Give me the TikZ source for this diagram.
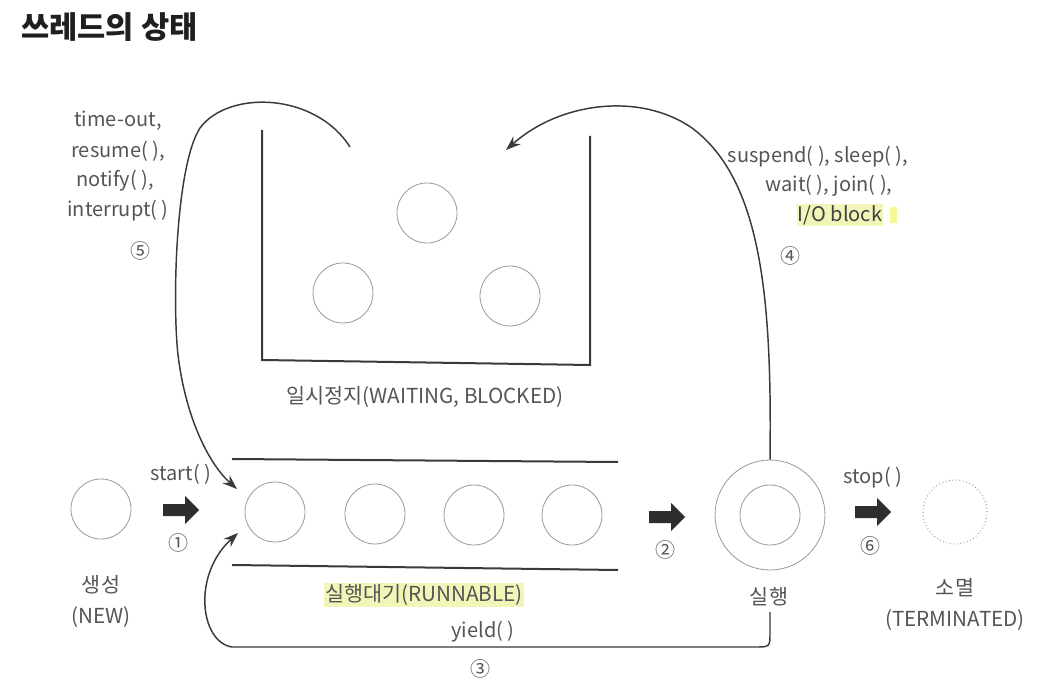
\documentclass[tikz,border=0pt]{standalone}
\usepackage{fontspec}
\setmainfont{Noto Sans CJK KR}
\usetikzlibrary{arrows.meta}
\definecolor{txt}{HTML}{555555}
\definecolor{ln}{HTML}{3A3A3A}
\definecolor{hl}{HTML}{F2F5B8}
\begin{document}
\begin{tikzpicture}[x=0.75pt,y=-0.75pt,
  state/.style={circle,draw=black!40,line width=0.6pt,minimum size=45pt,inner sep=0},
  lbl/.style={text=txt,font=\fontsize{15}{17}\selectfont,inner sep=1pt},
  klbl/.style={text=txt,font=\fontsize{15.5}{17}\selectfont,inner sep=1pt},
  wall/.style={draw=ln,line width=1.5pt},
  conn/.style={draw=ln,line width=1.1pt,-{Stealth[length=11pt,width=8pt]}},
  barrow/.style={fill=black!82}]
\useasboundingbox (0,0) rectangle (1056,680);
\fill[white] (0,0) rectangle (1056,680);

% title
\node[anchor=west,font=\bfseries\fontsize{23}{26}\selectfont,text=black!88,inner sep=0] (title) at (21,27) {쓰레드의 상태};

% waiting box
\draw[wall] (262,130) -- (262,360) -- (590,365) -- (590,136);
\node[state] (w1) at (427,213) {};
\node[state] (w2) at (343,293) {};
\node[state] (w3) at (510,296) {};
\node[klbl] (wlab) at (425,397) {일시정지(WAITING, BLOCKED)};

% runnable queue
\draw[wall] (232,459) -- (618,462);
\draw[wall] (232,565) -- (618,570);
\node[state] (r1) at (275,512) {};
\node[state] (r2) at (375,514) {};
\node[state] (r3) at (474,515) {};
\node[state] (r4) at (572,515) {};
\node[klbl,fill=hl] (rlab) at (424,595) {실행대기(RUNNABLE)};

% new
\node[state] (new) at (101,509) {};
\node[klbl] (newk) at (101,585) {생성};
\node[klbl] (newe) at (101,617) {(NEW)};

% running
\node[state,minimum size=82.5pt] (run) at (770,515) {};
\node[state] (runin) at (770,515) {};
\node[klbl] (runk) at (769,597) {실행};

% terminated
\node[state,dotted,line width=0.8pt,minimum size=48pt] (term) at (955,512) {};
\node[klbl] (termk) at (955,588) {소멸};
\node[klbl] (terme) at (955,620) {(TERMINATED)};

% block arrows
\coordinate (b1) at (181,510);
\coordinate (b2) at (667,517);
\coordinate (b6) at (873,512);
\foreach \b in {b1,b2,b6}
  \fill[barrow] (\b) ++(-18,-6) -- ++(22,0) -- ++(0,-8) -- ++(14,14) -- ++(-14,14) -- ++(0,-8) -- ++(-22,0) -- cycle;
\node[lbl] (b1t) at (181,474) {start( )};
\node[lbl] (b1n) at (178,543) {①};
\node[lbl] (b2n) at (665,550) {②};
\node[lbl] (b6t) at (873,478) {stop( )};
\node[lbl] (b6n) at (870,546) {⑥};

% connector 5 : waiting -> runnable
\coordinate (c5s) at (350,147);
\coordinate (c5e) at (237,489);
\draw[conn] (c5s) .. controls (315,92) and (228,90) .. (200,128)
  .. controls (176,165) and (172,300) .. (178,355)
  .. controls (186,420) and (210,465) .. (c5e);
\node[lbl] (l5a) at (118,121) {time-out,};
\node[lbl] (l5b) at (118,151) {resume( ),};
\node[lbl] (l5c) at (115,181) {notify( ),};
\node[lbl] (l5d) at (118,211) {interrupt( )};
\node[lbl] (l5n) at (140,251) {⑤};

% connector 4 : running -> waiting
\coordinate (c4e) at (506,150);
\draw[conn] (run.north) .. controls (772,300) and (762,180) .. (692,128)
  .. controls (640,92) and (560,102) .. (c4e);
\node[lbl] (l4a) at (818,157) {suspend( ), sleep( ),};
\node[lbl] (l4b) at (829,186) {wait( ), join( ),};
\node[lbl,fill=hl,text=black!75] (l4c) at (840,215) {I/O block};
\fill[hl!80!yellow] (890,207) rectangle (897,223);
\node[lbl] (l4n) at (790,256) {④};

% connector 3 : yield
\coordinate (c3s) at (770,612);
\coordinate (c3e) at (238,533);
\draw[conn] (c3s) -- (770,632) .. controls (770,647) .. (755,647)
  -- (232,647) .. controls (200,642) and (192,575) .. (c3e);
\node[lbl] (l3) at (483,632) {yield( )};
\node[lbl] (l3n) at (480,669) {③};
\end{tikzpicture}
\end{document}
